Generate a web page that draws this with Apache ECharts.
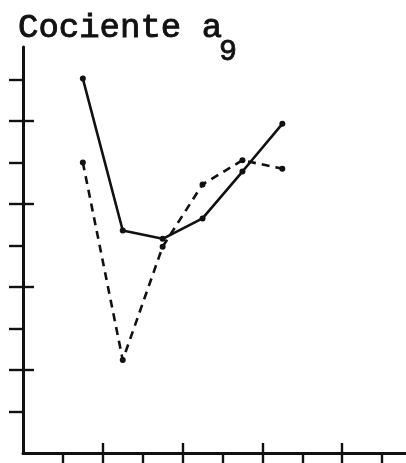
<!DOCTYPE html>
<html>
<head>
<meta charset="utf-8">
<script src="https://cdn.jsdelivr.net/npm/echarts@6/dist/echarts.min.js"></script>
<style>
  html, body { margin: 0; padding: 0; background: #fff; }
  #chart { width: 406px; height: 463px; }
</style>
</head>
<body>
<div id="chart"></div>
<script>
// x positions of the points (unlabelled axis, units = tick spacing)
let xValues = [1.5, 2.5, 3.5, 4.5, 5.5, 6.5];
// solid line
let solidValues = [9.02, 5.36, 5.16, 5.65, 6.78, 7.93];
// dashed line
let dashedValues = [7.0, 2.24, 4.97, 6.47, 7.05, 6.85];
// tick marks
let minorTicks = [1, 2, 3, 4, 5, 6, 7, 8, 9];
let majorTicks = [2, 4, 6, 8];

let xMax = 9.6;
let yMax = 9.78;

function pairs(vals) {
  return vals.map(function (v, i) { return [xValues[i], v]; });
}

let ink = '#111';
let font = '"Liberation Mono", "DejaVu Sans Mono", monospace';

let myChart = echarts.init(document.getElementById('chart'));

// base axis: every tick outside; overlay axis: the longer crossing ticks
function xAxisDef(ticks, inside, len, show) {
  return {
    type: 'value', position: 'bottom', min: 0, max: xMax, interval: 1,
    axisLine: { show: show, lineStyle: { color: ink, width: 3 } },
    axisTick: { show: true, inside: inside, length: len, customValues: ticks,
      lineStyle: { color: ink, width: 2.4 } },
    axisLabel: { show: false },
    splitLine: { show: false }
  };
}
function yAxisDef(ticks, inside, len, show) {
  return {
    type: 'value', position: 'left', min: 0, max: yMax, interval: 1,
    axisLine: { show: show, lineStyle: { color: ink, width: 3 } },
    axisTick: { show: true, inside: inside, length: len, customValues: ticks,
      lineStyle: { color: ink, width: 2.4 } },
    axisLabel: { show: false },
    splitLine: { show: false }
  };
}

myChart.setOption({
  backgroundColor: '#fff',
  animation: false,
  title: [
    { text: 'Cociente a', left: 18, top: 11, padding: 0,
      textStyle: { fontFamily: font, fontSize: 34, fontWeight: 'normal', color: ink,
        textBorderColor: ink, textBorderWidth: 0.9 } },
    { text: '9', left: 219, top: 37, padding: 0,
      textStyle: { fontFamily: font, fontSize: 30, fontWeight: 'normal', color: ink,
        textBorderColor: ink, textBorderWidth: 0.9 } }
  ],
  grid: { left: 23, right: 0, top: 47, bottom: 10 },
  xAxis: [
    xAxisDef(minorTicks, false, 14, true),
    xAxisDef(majorTicks, true, 10, false)
  ],
  yAxis: [
    yAxisDef(minorTicks, false, 14, true),
    yAxisDef(majorTicks, true, 11, false)
  ],
  series: [
    {
      name: 'solid', type: 'line', data: pairs(solidValues),
      symbol: 'circle', symbolSize: 6,
      itemStyle: { color: ink },
      lineStyle: { color: ink, width: 2.6, type: 'solid' }
    },
    {
      name: 'dashed', type: 'line', data: pairs(dashedValues),
      symbol: 'circle', symbolSize: 6,
      itemStyle: { color: ink },
      lineStyle: { color: ink, width: 2.6, type: [8, 6] }
    }
  ]
});
</script>
</body>
</html>
